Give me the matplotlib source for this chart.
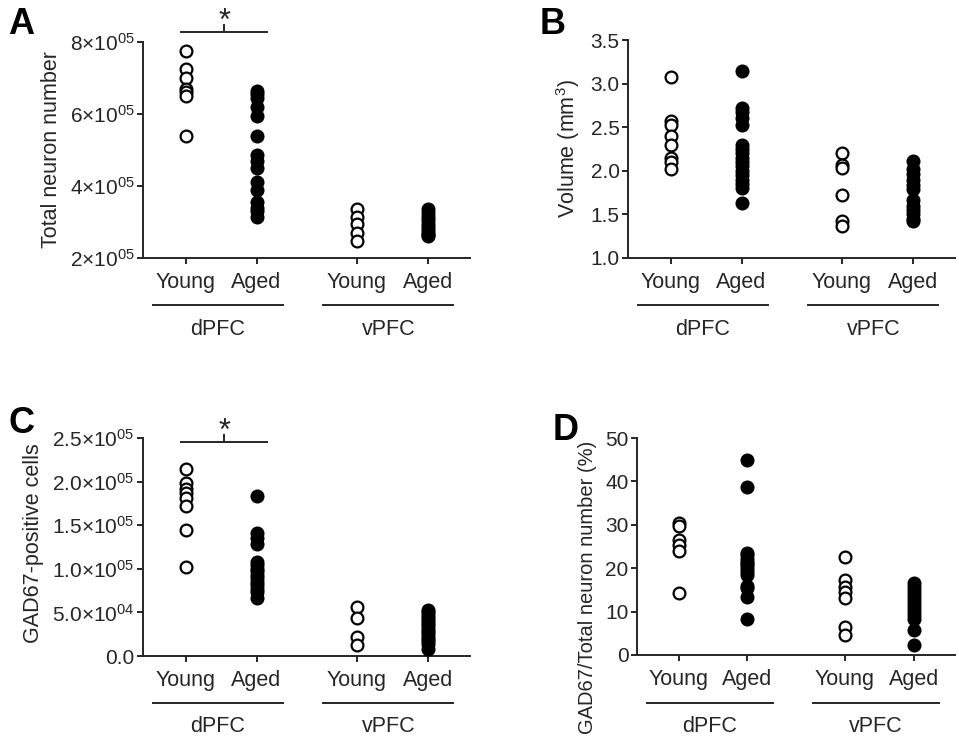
import matplotlib
matplotlib.use('Agg')
import matplotlib.pyplot as plt
import matplotlib.transforms as mtransforms
import numpy as np

plt.rcParams['font.family'] = ['Liberation Sans', 'DejaVu Sans']
plt.rcParams['mathtext.fontset'] = 'custom'
plt.rcParams['mathtext.rm'] = 'Liberation Sans'
plt.rcParams['mathtext.it'] = 'Liberation Sans:italic'
plt.rcParams['mathtext.bf'] = 'Liberation Sans:bold'

groups = ['Young', 'Aged', 'Young', 'Aged']
regions = ['dPFC', 'vPFC']

# A - total neuron number
a_dy = [7.75e5, 7.25e5, 7.0e5, 6.7e5, 6.6e5, 6.5e5, 5.4e5]
a_da = [6.65e5, 6.55e5, 6.45e5, 6.2e5, 5.95e5, 5.4e5, 4.85e5, 4.7e5, 4.5e5, 4.1e5, 3.9e5, 3.55e5, 3.4e5, 3.3e5, 3.15e5]
a_vy = [3.36e5, 3.15e5, 2.94e5, 2.7e5, 2.48e5]
a_va = [3.35e5, 3.25e5, 3.15e5, 3.05e5, 2.95e5, 2.85e5, 2.78e5, 2.7e5, 2.65e5, 2.6e5]

# B - volume
b_dy = [3.07, 2.57, 2.53, 2.4, 2.3, 2.15, 2.1, 2.02]
b_da = [3.14, 2.72, 2.67, 2.6, 2.52, 2.3, 2.25, 2.2, 2.15, 2.1, 2.05, 2.0, 1.95, 1.9, 1.85, 1.8, 1.63]
b_vy = [2.2, 2.07, 2.03, 1.72, 1.42, 1.37]
b_va = [2.11, 2.02, 1.96, 1.9, 1.84, 1.79, 1.66, 1.6, 1.55, 1.5, 1.45, 1.42]

# C - GAD67-positive cells
c_dy = [2.15e5, 1.98e5, 1.92e5, 1.87e5, 1.81e5, 1.72e5, 1.45e5, 1.02e5]
c_da = [1.83e5, 1.41e5, 1.35e5, 1.29e5, 1.08e5, 1.04e5, 1.0e5, 0.97e5, 0.93e5, 0.89e5, 0.85e5, 0.81e5, 0.77e5, 0.73e5, 0.67e5]
c_vy = [5.6e4, 4.4e4, 2.2e4, 1.3e4]
c_va = [5.3e4, 5.0e4, 4.7e4, 4.4e4, 4.1e4, 3.8e4, 3.5e4, 3.2e4, 2.9e4, 2.6e4, 2.3e4, 2.0e4, 1.7e4, 1.4e4, 0.8e4]

# D - GAD67 / total (%)
d_dy = [30.3, 29.8, 26.5, 25.3, 24.0, 14.4]
d_da = [45.0, 38.8, 23.5, 23.0, 22.2, 21.5, 21.0, 20.4, 19.8, 19.2, 18.5, 16.0, 15.5, 13.4, 8.2]
d_vy = [22.5, 17.3, 15.7, 14.6, 13.1, 6.5, 4.6]
d_va = [16.5, 15.6, 14.7, 13.8, 12.9, 12.0, 11.1, 10.2, 9.3, 8.4, 5.8, 2.2]

xpos = [1, 2, 3.42, 4.43]
W, H = 959, 741
ink = '#262626'

fig = plt.figure(figsize=(W / 100, H / 100), dpi=100)


def make_axes(l, r, t, b):
    return fig.add_axes([l / W, 1 - b / H, (r - l) / W, (b - t) / H])


def panel(ax, data, ylim, yticks, yticklabels, ylabel, letter, lines_y, letter_xy,
          label_size=15.5, label_y=None):
    for i, vals in enumerate(data):
        filled = i % 2 == 1
        ax.plot([xpos[i]] * len(vals), vals, 'o', ms=8.5, mew=1.6,
                mec='black', mfc='black' if filled else 'white', clip_on=False, zorder=3)
    ax.set_xlim(0.39, 0.39 + 327 / 70.5)
    ax.set_ylim(ylim)
    ax.set_yticks(yticks)
    ax.set_yticklabels(yticklabels)
    ax.set_xticks(xpos)
    ax.set_xticklabels(groups)
    ax.set_ylabel(ylabel, fontsize=label_size, color=ink, labelpad=6)
    if label_y is not None:
        ax.yaxis.label.set_y(label_y)
    for s in ['top', 'right']:
        ax.spines[s].set_visible(False)
    for s in ['left', 'bottom']:
        ax.spines[s].set_linewidth(1.4)
        ax.spines[s].set_color(ink)
    ax.tick_params(axis='y', labelsize=15, colors=ink, width=1.4, length=4, direction='out', pad=2)
    ax.tick_params(axis='x', labelsize=15.5, colors=ink, width=1.4, length=4, direction='out', pad=6)
    tr = mtransforms.blended_transform_factory(ax.transData, fig.transFigure)
    centers = [1.45, 3.87]
    for c, name in zip(centers, regions):
        ax.plot([c - 0.92, c + 0.92], [1 - lines_y / H] * 2, color=ink, lw=1.4,
                transform=tr, clip_on=False)
        ax.text(c, 1 - (lines_y + 24) / H, name, transform=tr, ha='center', va='center',
                fontsize=15.5, color=ink)
    fig.text(letter_xy[0] / W, 1 - letter_xy[1] / H, letter, fontsize=26,
             fontweight='bold', ha='left', va='center')


def bracket(ax, y_line):
    tr = mtransforms.blended_transform_factory(ax.transData, fig.transFigure)
    ax.plot([0.93, 2.15], [1 - y_line / H] * 2, color=ink, lw=1.4, transform=tr, clip_on=False)
    ax.plot([1.54, 1.54], [1 - y_line / H, 1 - (y_line - 7) / H], color=ink, lw=1.4,
            transform=tr, clip_on=False)
    ax.text(1.54, 1 - (y_line - 10) / H, '*', transform=tr, ha='center', va='center',
            fontsize=22, color=ink)


axA = make_axes(143, 470, 42, 258)
panel(axA, [a_dy, a_da, a_vy, a_va], (2e5, 8e5), [2e5, 4e5, 6e5, 8e5],
      ['2×10$^{05}$', '4×10$^{05}$', '6×10$^{05}$', '8×10$^{05}$'],
      'Total neuron number', 'A', 305, (8, 24))
bracket(axA, 32)

axB = make_axes(628, 955, 40, 258)
panel(axB, [b_dy, b_da, b_vy, b_va], (1.0, 3.5), [1.0, 1.5, 2.0, 2.5, 3.0, 3.5],
      ['1.0', '1.5', '2.0', '2.5', '3.0', '3.5'],
      'Volume (mm$^3$)', 'B', 305, (540, 24))

axC = make_axes(143, 470, 438, 656)
panel(axC, [c_dy, c_da, c_vy, c_va], (0, 2.5e5), [0, 5e4, 1e5, 1.5e5, 2e5, 2.5e5],
      ['0.0', '5.0×10$^{04}$', '1.0×10$^{05}$', '1.5×10$^{05}$', '2.0×10$^{05}$', '2.5×10$^{05}$'],
      'GAD67-positive cells', 'C', 703, (8, 424), label_y=0.52)
bracket(axC, 442)

axD = make_axes(637, 955, 438, 655)
panel(axD, [d_dy, d_da, d_vy, d_va], (0, 50), [0, 10, 20, 30, 40, 50],
      ['0', '10', '20', '30', '40', '50'],
      'GAD67/Total neuron number (%)', 'D', 703, (553, 430),
      label_size=14.5, label_y=0.31)

fig.savefig('out.png', dpi=100)
